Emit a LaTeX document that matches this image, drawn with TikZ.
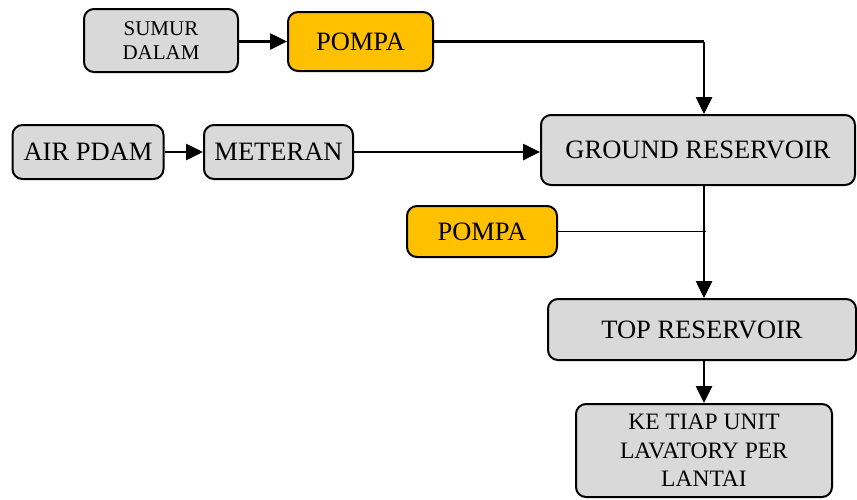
\documentclass[tikz,border=0pt]{standalone}
\usepackage{fontspec}
\setmainfont{Liberation Serif}
\usetikzlibrary{arrows.meta}
\definecolor{boxgray}{HTML}{D9D9D9}
\definecolor{pumporange}{HTML}{FFC000}
\tikzset{
  block/.style={draw=black, line width=2pt, rounded corners=10pt, fill=boxgray,
    align=center, inner sep=0pt, font=\fontsize{26.5}{31}\selectfont},
  pump/.style={block, fill=pumporange},
  flow/.style={line width=2.6pt, -{Triangle[length=17pt,width=16pt]}},
  pipe/.style={line width=2.6pt},
  thinpipe/.style={line width=1.8pt}
}
\begin{document}
\begin{tikzpicture}[x=1pt,y=-1pt]
\useasboundingbox (0,0) rectangle (857,499);

\node[block, minimum width=154pt, minimum height=63pt,
  font=\fontsize{21}{24.5}\selectfont] (sumur) at (161,40.5) {SUMUR\\DALAM};
\node[pump, minimum width=145pt, minimum height=59pt] (pompaA) at (360.5,41.5) {POMPA};
\node[block, minimum width=151pt, minimum height=54pt] (pdam) at (88,152) {AIR PDAM};
\node[block, minimum width=149pt, minimum height=54pt] (meter) at (278.5,152) {METERAN};
\node[block, minimum width=314pt, minimum height=70pt] (ground) at (698,150) {GROUND RESERVOIR};
\node[pump, minimum width=150pt, minimum height=51pt] (pompaB) at (482,231.5) {POMPA};
\node[block, minimum width=308pt, minimum height=61pt] (top) at (702,329.5) {TOP RESERVOIR};
\node[block, minimum width=256pt, minimum height=93pt,
  font=\fontsize{23.5}{28.5}\selectfont] (unit) at (704,450.5) {KE TIAP UNIT\\LAVATORY PER\\LANTAI};

\coordinate (riser) at (704,0);
\coordinate (tee) at (706,0);

\draw[flow] (sumur.east |- pompaA.west) -- (pompaA.west);
\draw[pipe] (pompaA.east) -- (pompaA.east -| riser) coordinate (bend);
\draw[flow] (bend) -- (bend |- ground.north);
\draw[flow] (pdam.east) -- (meter.west);
\draw[flow] (meter.east) -- (meter.east -| ground.west);
\draw[flow] (ground.south -| riser) -- (top.north -| riser);
\draw[thinpipe] (pompaB.east) -- (pompaB.east -| tee);
\draw[flow] (top.south -| riser) -- (unit.north -| riser);
\end{tikzpicture}
\end{document}
